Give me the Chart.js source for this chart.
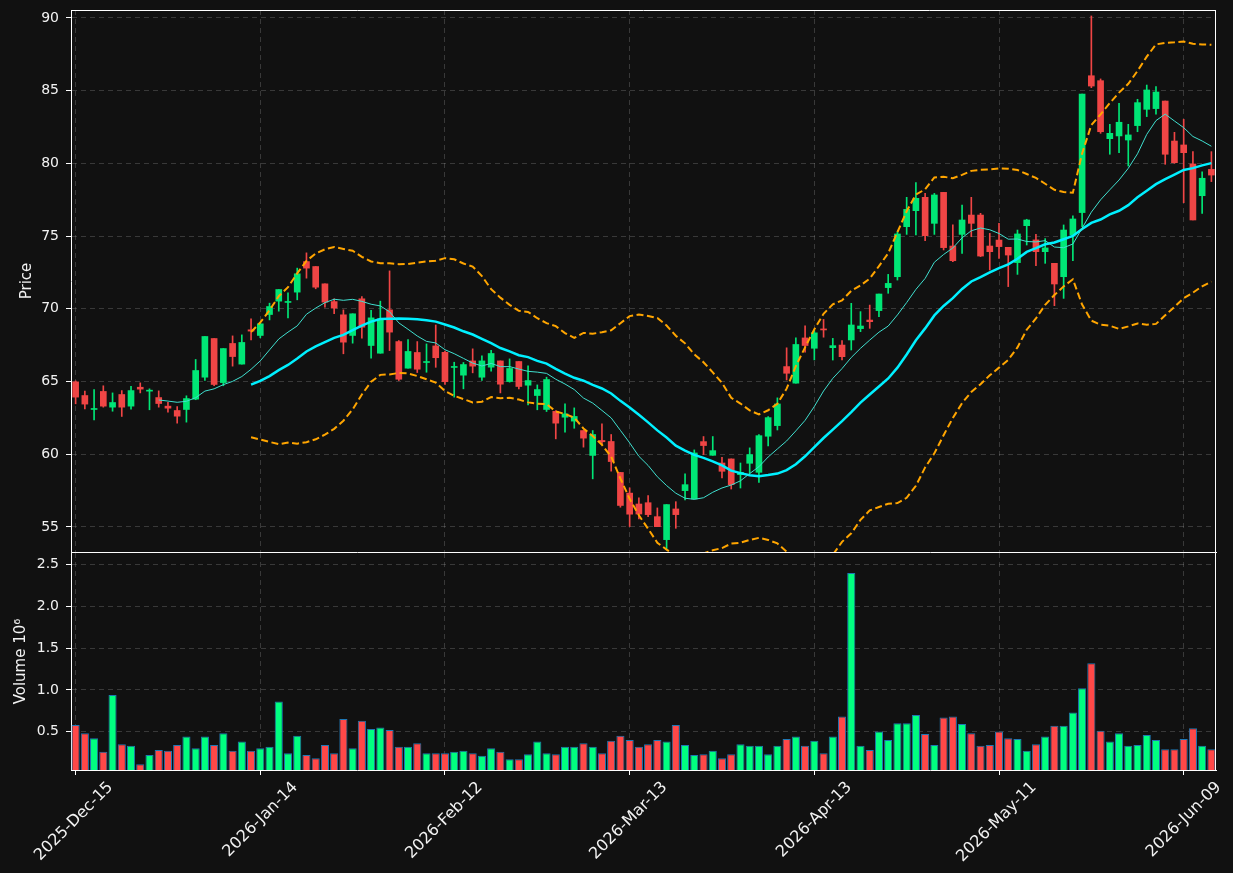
<!DOCTYPE html>
<html>
<head>
<meta charset="utf-8">
<script src="https://cdn.jsdelivr.net/npm/chart.js@4.4.1/dist/chart.umd.min.js"></script>
<style>
  html, body { margin: 0; padding: 0; background: #111111; }
  #wrap { position: relative; width: 1233px; height: 873px; }
  canvas { position: absolute; left: 0; }
  #priceCanvas { top: 0; }
  #volumeCanvas { top: 553px; }
</style>
</head>
<body>
<div id="wrap">
  <canvas id="priceCanvas" width="1233" height="553"></canvas>
  <canvas id="volumeCanvas" width="1233" height="320"></canvas>
</div>
<script>
// trading days shown on the x axis
const dates = [
  '2025-Dec-15','2025-Dec-16','2025-Dec-17','2025-Dec-18','2025-Dec-19','2025-Dec-22','2025-Dec-23','2025-Dec-24','2025-Dec-26','2025-Dec-29',
  '2025-Dec-30','2025-Dec-31','2026-Jan-02','2026-Jan-05','2026-Jan-06','2026-Jan-07','2026-Jan-08','2026-Jan-09','2026-Jan-12','2026-Jan-13',
  '2026-Jan-14','2026-Jan-15','2026-Jan-16','2026-Jan-20','2026-Jan-21','2026-Jan-22','2026-Jan-23','2026-Jan-26','2026-Jan-27','2026-Jan-28',
  '2026-Jan-29','2026-Jan-30','2026-Feb-02','2026-Feb-03','2026-Feb-04','2026-Feb-05','2026-Feb-06','2026-Feb-09','2026-Feb-10','2026-Feb-11',
  '2026-Feb-12','2026-Feb-13','2026-Feb-17','2026-Feb-18','2026-Feb-19','2026-Feb-20','2026-Feb-23','2026-Feb-24','2026-Feb-25','2026-Feb-26',
  '2026-Feb-27','2026-Mar-02','2026-Mar-03','2026-Mar-04','2026-Mar-05','2026-Mar-06','2026-Mar-09','2026-Mar-10','2026-Mar-11','2026-Mar-12',
  '2026-Mar-13','2026-Mar-16','2026-Mar-17','2026-Mar-18','2026-Mar-19','2026-Mar-20','2026-Mar-23','2026-Mar-24','2026-Mar-25','2026-Mar-26',
  '2026-Mar-27','2026-Mar-30','2026-Mar-31','2026-Apr-01','2026-Apr-02','2026-Apr-06','2026-Apr-07','2026-Apr-08','2026-Apr-09','2026-Apr-10',
  '2026-Apr-13','2026-Apr-14','2026-Apr-15','2026-Apr-16','2026-Apr-17','2026-Apr-20','2026-Apr-21','2026-Apr-22','2026-Apr-23','2026-Apr-24',
  '2026-Apr-27','2026-Apr-28','2026-Apr-29','2026-Apr-30','2026-May-01','2026-May-04','2026-May-05','2026-May-06','2026-May-07','2026-May-08',
  '2026-May-11','2026-May-12','2026-May-13','2026-May-14','2026-May-15','2026-May-18','2026-May-19','2026-May-20','2026-May-21','2026-May-22',
  '2026-May-26','2026-May-27','2026-May-28','2026-May-29','2026-Jun-01','2026-Jun-02','2026-Jun-03','2026-Jun-04','2026-Jun-05','2026-Jun-08',
  '2026-Jun-09','2026-Jun-10','2026-Jun-11','2026-Jun-12'
];

const opens = [
  64.98, 64.04, 63.08, 64.32, 63.24, 64.11, 63.31, 64.61, 64.34, 63.90,
  63.31, 63.01, 63.08, 63.79, 65.30, 67.96, 64.93, 67.62, 66.20, 68.56,
  68.17, 69.61, 70.53, 70.44, 71.15, 73.25, 72.91, 71.72, 70.50, 69.59,
  68.17, 70.69, 67.48, 66.95, 69.93, 67.75, 65.92, 67.00, 66.31, 67.45,
  67.01, 65.97, 65.44, 66.42, 65.30, 65.99, 66.42, 65.00, 66.38, 64.75,
  64.04, 63.08, 62.95, 62.55, 62.28, 61.63, 59.92, 60.95, 60.88, 58.75,
  57.33, 56.58, 56.67, 55.71, 54.13, 56.24, 57.50, 56.93, 60.87, 59.93,
  59.40, 59.68, 58.60, 59.38, 58.76, 61.24, 61.97, 66.03, 64.89, 68.00,
  67.29, 68.62, 67.33, 67.51, 67.86, 68.64, 69.23, 69.88, 71.46, 72.21,
  75.65, 76.75, 77.67, 75.88, 78.01, 74.32, 75.12, 76.45, 76.45, 74.32,
  74.73, 74.23, 73.18, 75.72, 74.74, 73.93, 73.13, 72.21, 75.08, 76.62,
  86.03, 85.69, 81.70, 81.89, 81.61, 82.60, 83.72, 83.77, 84.29, 81.54,
  81.27, 79.96, 77.78, 79.59
];
const highs = [
  65.05, 64.34, 64.45, 64.71, 64.22, 64.38, 64.68, 64.91, 64.50, 64.36,
  63.58, 63.28, 64.02, 66.52, 68.10, 67.96, 67.27, 68.14, 68.21, 69.31,
  69.05, 70.39, 71.33, 71.10, 72.80, 73.85, 72.91, 71.72, 70.69, 69.93,
  69.66, 70.85, 69.89, 70.53, 72.61, 67.82, 67.89, 67.75, 67.59, 68.89,
  67.10, 66.33, 66.31, 67.25, 66.77, 67.14, 66.42, 66.56, 66.38, 66.08,
  64.77, 65.30, 63.00, 63.47, 63.19, 61.63, 61.63, 62.09, 61.36, 58.75,
  57.69, 57.00, 57.16, 56.31, 56.54, 56.74, 58.65, 60.30, 61.22, 61.22,
  59.79, 59.68, 59.40, 60.44, 61.35, 62.59, 63.88, 67.32, 68.00, 68.83,
  68.51, 69.27, 67.97, 67.81, 70.38, 69.81, 70.26, 71.02, 72.37, 75.31,
  77.67, 78.68, 77.94, 77.94, 78.01, 75.77, 77.14, 77.67, 76.57, 75.19,
  75.88, 74.23, 75.42, 76.16, 75.13, 74.83, 73.13, 75.77, 76.39, 84.77,
  90.14, 85.81, 82.69, 84.13, 82.69, 84.41, 85.39, 85.28, 84.29, 82.14,
  83.03, 80.81, 79.43, 80.81
];
const lows = [
  63.47, 63.12, 62.37, 63.24, 62.96, 62.60, 63.10, 64.22, 63.06, 63.24,
  62.89, 62.14, 62.21, 63.75, 65.07, 64.71, 64.71, 66.06, 66.20, 67.87,
  68.01, 69.24, 69.84, 69.38, 70.62, 72.11, 71.38, 70.11, 69.66, 66.91,
  67.64, 67.98, 66.61, 66.95, 67.13, 65.07, 65.92, 65.62, 65.64, 65.98,
  64.81, 63.93, 64.50, 65.60, 65.07, 65.71, 64.22, 64.96, 64.50, 63.40,
  63.06, 62.94, 61.06, 61.52, 61.79, 60.49, 58.31, 60.72, 58.84, 56.36,
  55.03, 55.55, 55.71, 55.02, 53.49, 54.91, 56.86, 56.93, 59.98, 59.93,
  58.37, 57.61, 57.68, 58.69, 58.07, 60.57, 61.67, 65.11, 64.89, 67.02,
  66.49, 68.05, 66.48, 66.49, 67.17, 68.43, 68.66, 69.46, 71.07, 71.98,
  75.12, 75.08, 74.69, 75.12, 74.05, 73.24, 73.82, 74.96, 73.59, 72.67,
  73.47, 71.53, 72.37, 74.39, 72.97, 73.13, 70.22, 70.72, 73.31, 75.65,
  85.21, 82.07, 80.63, 80.74, 79.82, 82.18, 83.22, 83.38, 79.94, 80.01,
  77.30, 76.11, 76.57, 78.75
];
const closes = [
  63.93, 63.45, 63.13, 63.31, 63.56, 63.24, 64.38, 64.48, 64.37, 63.49,
  63.17, 62.62, 63.83, 65.76, 68.10, 64.80, 67.27, 66.72, 67.69, 68.47,
  68.97, 70.16, 71.33, 70.48, 72.41, 72.80, 71.49, 70.46, 70.05, 67.71,
  69.66, 68.74, 69.38, 69.31, 68.40, 65.16, 67.07, 65.85, 66.35, 66.64,
  64.99, 66.01, 66.17, 66.06, 66.42, 66.93, 64.82, 65.90, 64.66, 65.07,
  64.45, 65.14, 62.14, 62.78, 62.60, 61.11, 61.36, 60.86, 59.50, 56.48,
  55.88, 55.89, 55.85, 55.02, 56.54, 55.85, 57.91, 60.09, 60.60, 60.25,
  58.83, 57.91, 58.76, 59.98, 61.28, 62.52, 63.46, 65.57, 67.55, 67.48,
  68.35, 68.55, 67.47, 66.71, 68.89, 68.82, 69.12, 71.02, 71.75, 75.15,
  76.84, 77.60, 75.03, 77.83, 74.21, 73.31, 76.11, 75.88, 73.63, 73.93,
  74.28, 73.70, 75.15, 76.11, 73.93, 74.19, 71.71, 75.42, 76.18, 84.77,
  85.32, 82.18, 82.07, 82.83, 81.96, 84.18, 85.05, 84.91, 80.63, 80.05,
  80.74, 76.11, 78.98, 79.20
];
// volume in millions of shares
const volumes = [
  0.58, 0.48, 0.42, 0.26, 0.94, 0.35, 0.33, 0.11, 0.22, 0.28,
  0.27, 0.34, 0.44, 0.30, 0.44, 0.34, 0.48, 0.27, 0.38, 0.27,
  0.30, 0.32, 0.86, 0.24, 0.45, 0.22, 0.18, 0.34, 0.24, 0.65,
  0.30, 0.63, 0.53, 0.55, 0.52, 0.32, 0.32, 0.36, 0.24, 0.24,
  0.24, 0.26, 0.27, 0.24, 0.21, 0.30, 0.26, 0.17, 0.17, 0.23,
  0.38, 0.24, 0.23, 0.32, 0.32, 0.36, 0.32, 0.24, 0.39, 0.45,
  0.40, 0.32, 0.35, 0.40, 0.38, 0.58, 0.34, 0.22, 0.23, 0.27,
  0.18, 0.23, 0.35, 0.33, 0.33, 0.23, 0.33, 0.41, 0.44, 0.33,
  0.39, 0.24, 0.44, 0.68, 2.40, 0.33, 0.28, 0.50, 0.40, 0.60,
  0.60, 0.70, 0.47, 0.34, 0.67, 0.68, 0.59, 0.48, 0.33, 0.34,
  0.50, 0.42, 0.41, 0.27, 0.35, 0.44, 0.57, 0.57, 0.73, 1.02,
  1.32, 0.51, 0.38, 0.48, 0.33, 0.34, 0.46, 0.40, 0.29, 0.29,
  0.41, 0.54, 0.33, 0.29
];

const tickEvery = 20;
const priceMin = 53.28, priceMax = 90.55;
const volMin = 0.04, volMax = 2.64;

const upColor = '#00e676';
const downColor = '#f04545';
const upVol = '#00ff80';
const downVol = '#ff4848';
const textColor = '#f2f2f2';
const gridColor = 'rgba(255,255,255,0.17)';
const fontFamily = "'DejaVu Sans', sans-serif";

// moving average and bollinger bands of the closes, as in the original indicators
function rollingMean(values, n) {
  return values.map((_, i) => {
    if (i < n - 1) return null;
    let s = 0;
    for (let k = i - n + 1; k <= i; k++) s += values[k];
    return s / n;
  });
}
function rollingStd(values, n) {
  const mean = rollingMean(values, n);
  return values.map((_, i) => {
    if (i < n - 1) return null;
    let s = 0;
    for (let k = i - n + 1; k <= i; k++) s += (values[k] - mean[i]) ** 2;
    return Math.sqrt(s / n);
  });
}
const ma10 = rollingMean(closes, 10);
const ma20 = rollingMean(closes, 20);
const sd20 = rollingStd(closes, 20);
const bbUpper = ma20.map((m, i) => m === null ? null : m + 2 * sd20[i]);
const bbLower = ma20.map((m, i) => m === null ? null : m - 2 * sd20[i]);

const isUp = closes.map((c, i) => c >= opens[i]);
const candleColors = isUp.map(u => u ? upColor : downColor);
const volColors = isUp.map(u => u ? upVol : downVol);

Chart.defaults.font.family = fontFamily;
Chart.defaults.font.size = 14;
Chart.defaults.color = textColor;

// draws the remaining frame lines of a panel
function framePlugin(sides) {
  return {
    id: 'frame',
    afterDraw(chart) {
      const { ctx, chartArea: a } = chart;
      ctx.save();
      ctx.strokeStyle = '#ffffff';
      ctx.lineWidth = 1;
      ctx.beginPath();
      if (sides.includes('top')) { ctx.moveTo(a.left, a.top + 0.5); ctx.lineTo(a.right, a.top + 0.5); }
      if (sides.includes('right')) { ctx.moveTo(a.right - 0.5, a.top); ctx.lineTo(a.right - 0.5, a.bottom); }
      ctx.stroke();
      ctx.restore();
    }
  };
}

function keepTicks(step) {
  return function(scale) {
    scale.ticks = scale.ticks.filter(t => {
      const r = t.value / step;
      return Math.abs(r - Math.round(r)) < 1e-6 && t.value >= scale.min && t.value <= scale.max;
    });
  };
}

function fixY(scale) {
  scale.width = 71;
  scale.paddingTop = 0;
  scale.paddingBottom = 0;
}
function fixX(height) {
  return function(scale) {
    scale.height = height;
    scale.paddingLeft = 0;
    scale.paddingRight = 0;
  };
}

const xGrid = { color: gridColor, offset: false, tickColor: '#ffffff', tickLength: 5, tickBorderDash: [] };
const xBase = {
  type: 'category',
  offset: true,
  border: { color: '#ffffff', dash: [5, 4] },
  afterBuildTicks: scale => { scale.ticks = scale.ticks.filter(t => t.value % tickEvery === 0); }
};

// price panel
new Chart(document.getElementById('priceCanvas'), {
  type: 'bar',
  data: {
    labels: dates,
    datasets: [
      { type: 'line', data: ma10, borderColor: '#40e0d0', borderWidth: 1, pointRadius: 0, order: 1 },
      { type: 'line', data: ma20, borderColor: '#00f0ff', borderWidth: 2.5, pointRadius: 0, order: 1 },
      { type: 'line', data: bbUpper, borderColor: '#ffa500', borderWidth: 2, borderDash: [7, 3.5], pointRadius: 0, order: 1 },
      { type: 'line', data: bbLower, borderColor: '#ffa500', borderWidth: 2, borderDash: [7, 3.5], pointRadius: 0, order: 1 },
      { data: opens.map((o, i) => [o, closes[i]]), backgroundColor: candleColors, barThickness: 6,
        minBarLength: 1, grouped: false, borderSkipped: false, order: 2 },
      { data: lows.map((l, i) => [l, highs[i]]), backgroundColor: candleColors, barThickness: 1,
        grouped: false, borderSkipped: false, order: 3 }
    ]
  },
  options: {
    responsive: false,
    animation: false,
    devicePixelRatio: 1,
    layout: { padding: { top: 10, right: 17, bottom: 1, left: 0 } },
    plugins: { legend: { display: false }, tooltip: { enabled: false } },
    scales: {
      x: Object.assign({}, xBase, {
        ticks: { display: false, autoSkip: false },
        grid: Object.assign({}, xGrid, { drawTicks: false }),
        afterFit: fixX(0)
      }),
      y: {
        min: priceMin, max: priceMax,
        ticks: { stepSize: 5, includeBounds: false, padding: 7, color: textColor },
        grid: { color: gridColor, tickColor: '#ffffff', tickLength: 5, tickBorderDash: [] },
        border: { color: '#ffffff', dash: [5, 4] },
        title: { display: true, text: 'Price', color: textColor, font: { size: 15 }, padding: { top: 18, bottom: 0 } },
        afterBuildTicks: keepTicks(5),
        afterFit: fixY
      }
    }
  },
  plugins: [framePlugin(['top', 'right'])]
});

// volume panel
new Chart(document.getElementById('volumeCanvas'), {
  type: 'bar',
  data: {
    labels: dates,
    datasets: [
      { data: volumes, backgroundColor: volColors, borderColor: '#1f77b4', borderWidth: 1,
        borderSkipped: false, barPercentage: 0.88, categoryPercentage: 1.0 }
    ]
  },
  options: {
    responsive: false,
    animation: false,
    devicePixelRatio: 1,
    layout: { padding: { top: 0, right: 17, bottom: 0, left: 0 } },
    plugins: { legend: { display: false }, tooltip: { enabled: false } },
    scales: {
      x: Object.assign({}, xBase, {
        ticks: { autoSkip: false, maxRotation: 45, minRotation: 45, padding: 3, labelOffset: 35,
                 color: textColor, font: { size: 16 } },
        grid: xGrid,
        afterFit: fixX(103)
      }),
      y: {
        min: volMin, max: volMax,
        ticks: { stepSize: 0.5, includeBounds: false, padding: 7, color: textColor,
                 callback: v => v.toFixed(1) },
        grid: { color: gridColor, tickColor: '#ffffff', tickLength: 5, tickBorderDash: [] },
        border: { color: '#ffffff', dash: [5, 4] },
        title: { display: true, text: 'Volume 10⁶', color: textColor, font: { size: 15 }, padding: { top: 12, bottom: 0 } },
        afterBuildTicks: keepTicks(0.5),
        afterFit: fixY
      }
    }
  },
  plugins: [framePlugin(['right'])]
});
</script>
</body>
</html>
